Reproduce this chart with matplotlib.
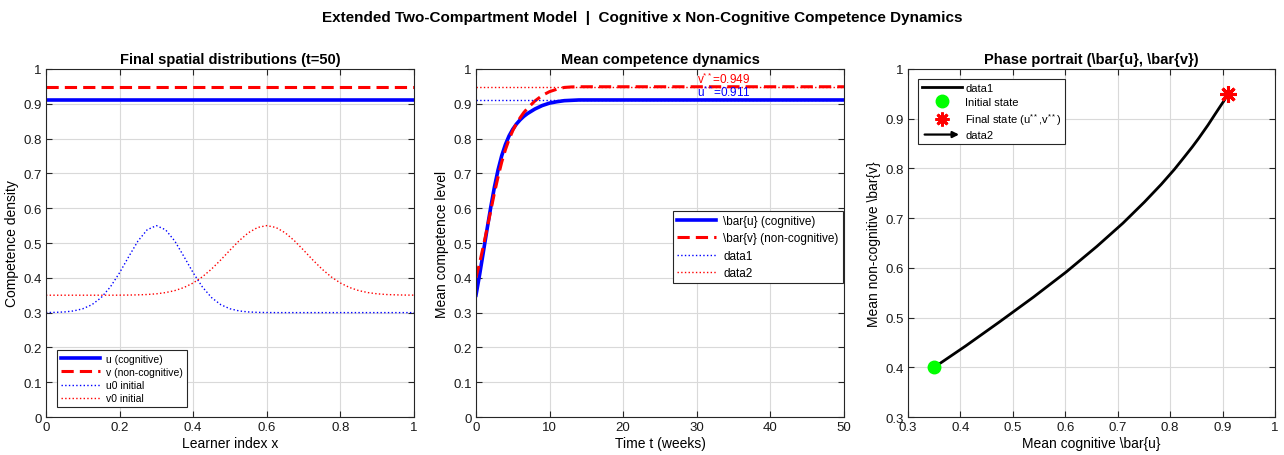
import numpy as np
import matplotlib
matplotlib.use("Agg")
import matplotlib.pyplot as plt
from matplotlib.lines import Line2D
from matplotlib.patches import FancyArrowPatch
from matplotlib.legend_handler import HandlerBase

plt.rcParams['font.family'] = ['Liberation Sans', 'DejaVu Sans']
plt.rcParams['mathtext.fontset'] = 'custom'
plt.rcParams['mathtext.rm'] = 'Liberation Sans'
plt.rcParams['mathtext.it'] = 'Liberation Sans'

# initial profiles on the learner grid (41 samples, 0..1)
x_init = np.linspace(0, 1, 41)
u0 = [0.3002, 0.3007, 0.3019, 0.3048, 0.311, 0.3228, 0.3431, 0.3738, 0.4145,
      0.461, 0.5057, 0.538, 0.55, 0.538, 0.5057, 0.461, 0.4145, 0.3738, 0.3431,
      0.3228, 0.311, 0.3048, 0.3019, 0.3007, 0.3002] + [0.3] * 16
v0 = [0.35] * 8 + [0.3502, 0.3504, 0.351, 0.352, 0.354, 0.3575, 0.3632, 0.3721,
                   0.3851, 0.4028, 0.4252, 0.4514, 0.4795, 0.5066, 0.5294, 0.5446,
                   0.55, 0.5446, 0.5294, 0.5066, 0.4795, 0.4514, 0.4252, 0.4028,
                   0.3851, 0.3721, 0.3632, 0.3575, 0.354, 0.352, 0.351, 0.3504, 0.3502]

# final profiles (flat)
x_final = [0, 1]
u_final = [0.911, 0.911]
v_final = [0.949, 0.949]

# mean competence over time
t = [0, 0.5, 1, 1.5, 2, 2.5, 3, 3.5, 4, 4.5, 5, 5.5, 6, 6.5, 7, 8, 9, 10, 11,
     12, 13, 14, 15, 17, 20, 30, 40, 50]
u_mean = [0.35, 0.41, 0.474, 0.539, 0.602, 0.66, 0.71, 0.751, 0.783, 0.808,
          0.827, 0.842, 0.854, 0.864, 0.872, 0.885, 0.895, 0.902, 0.906, 0.909,
          0.910, 0.911, 0.911, 0.911, 0.911, 0.911, 0.911, 0.911]
v_mean = [0.40, 0.443, 0.491, 0.541, 0.592, 0.643, 0.690, 0.7325, 0.768, 0.798,
          0.823, 0.843, 0.860, 0.875, 0.887, 0.908, 0.924, 0.935, 0.942, 0.947,
          0.9485, 0.949, 0.949, 0.949, 0.949, 0.949, 0.949, 0.949]
u_star = 0.911
v_star = 0.949

BLUE = '#0000ff'
RED = '#ff0000'
GRID = '#d9d9d9'
AX = '#262626'


class ArrowHandler(HandlerBase):
    def create_artists(self, legend, orig_handle, xdescent, ydescent,
                       width, height, fontsize, trans):
        a = FancyArrowPatch((-xdescent, height / 2), (width - xdescent, height / 2),
                            arrowstyle='-|>', mutation_scale=9, color='k', lw=1.6,
                            transform=trans)
        return [a]


def style(ax, xlim, ylim, xticks, yticks):
    ax.set_xlim(xlim)
    ax.set_ylim(ylim)
    ax.set_xticks(xticks)
    ax.set_yticks(yticks)
    ax.set_xticklabels([f'{v:g}' for v in xticks])
    ax.set_yticklabels([f'{v:g}' for v in yticks])
    ax.grid(True, color=GRID, lw=0.8)
    ax.set_axisbelow(True)
    ax.tick_params(direction='in', top=True, right=True, length=4,
                   labelsize=9.5, color=AX, labelcolor='#1a1a1a', pad=3)
    for s in ax.spines.values():
        s.set_color(AX)
        s.set_linewidth(0.8)


def boxed_legend(ax, *args, **kw):
    leg = ax.legend(*args, fancybox=False, edgecolor=AX, framealpha=1,
                    borderpad=0.35, borderaxespad=0, **kw)
    leg.get_frame().set_linewidth(0.8)
    return leg


fig = plt.figure(figsize=(12.84, 4.56), dpi=100)
ax1 = fig.add_axes([0.0358, 0.0833, 0.2866, 0.7632])
ax2 = fig.add_axes([0.3707, 0.0833, 0.2866, 0.7632])
ax3 = fig.add_axes([0.7072, 0.0833, 0.2858, 0.7632])

fig.suptitle('Extended Two-Compartment Model  |  Cognitive x Non-Cognitive Competence Dynamics',
             fontsize=11, fontweight='bold', y=0.975)

# left panel
ax1.plot(x_final, u_final, color=BLUE, lw=2.6, label='u (cognitive)')
ax1.plot(x_final, v_final, color=RED, lw=2.2, dashes=(4, 2), label='v (non-cognitive)')
ax1.plot(x_init, u0, color=BLUE, lw=1.0, ls=':', label='u0 initial')
ax1.plot(x_init, v0, color=RED, lw=1.0, ls=':', label='v0 initial')
style(ax1, (0, 1), (0, 1), [0, 0.2, 0.4, 0.6, 0.8, 1],
      [0, 0.1, 0.2, 0.3, 0.4, 0.5, 0.6, 0.7, 0.8, 0.9, 1])
ax1.set_title('Final spatial distributions (t=50)', fontsize=10.5, fontweight='bold', pad=4)
ax1.set_xlabel('Learner index x', fontsize=10, labelpad=2)
ax1.set_ylabel('Competence density', fontsize=10, labelpad=3)
boxed_legend(ax1, loc='lower left', bbox_to_anchor=(0.03, 0.029), fontsize=7.5,
             handlelength=3.8, labelspacing=0.3, handletextpad=0.6)

# middle panel
ax2.plot(t, u_mean, color=BLUE, lw=2.6, label=r'\bar{u} (cognitive)')
ax2.plot(t, v_mean, color=RED, lw=2.2, dashes=(4, 2), label=r'\bar{v} (non-cognitive)')
ax2.plot([0, 50], [u_star, u_star], color=BLUE, lw=1.0, ls=':', label='data1')
ax2.plot([0, 50], [v_star, v_star], color=RED, lw=1.0, ls=':', label='data2')
ax2.text(30, u_star + 0.002, r'u$^{**}$=0.911', color=BLUE, fontsize=8.5, va='bottom')
ax2.text(30, v_star + 0.002, r'v$^{**}$=0.949', color=RED, fontsize=8.5, va='bottom')
style(ax2, (0, 50), (0, 1), [0, 10, 20, 30, 40, 50],
      [0, 0.1, 0.2, 0.3, 0.4, 0.5, 0.6, 0.7, 0.8, 0.9, 1])
ax2.set_title('Mean competence dynamics', fontsize=10.5, fontweight='bold', pad=4)
ax2.set_xlabel('Time t (weeks)', fontsize=10, labelpad=2)
ax2.set_ylabel('Mean competence level', fontsize=10, labelpad=3)
boxed_legend(ax2, loc='upper right', bbox_to_anchor=(0.997, 0.592), fontsize=8.5,
             handlelength=3.3, labelspacing=0.45, handletextpad=0.6)

# right panel
ax3.plot(u_mean, v_mean, color='k', lw=2.0)
ax3.plot(u_mean[0], v_mean[0], 'o', color='#00ff00', ms=9, zorder=5)
ax3.plot(u_mean[-1], v_mean[-1], marker=(8, 2, 0), color=RED, ms=12, mew=2.2,
         ls='none', zorder=5)
style(ax3, (0.3, 1), (0.3, 1), [0.3, 0.4, 0.5, 0.6, 0.7, 0.8, 0.9, 1],
      [0.3, 0.4, 0.5, 0.6, 0.7, 0.8, 0.9, 1])
ax3.set_title(r'Phase portrait (\bar{u}, \bar{v})', fontsize=10.5, fontweight='bold', pad=4)
ax3.set_xlabel(r'Mean cognitive \bar{u}', fontsize=10, labelpad=2)
ax3.set_ylabel(r'Mean non-cognitive \bar{v}', fontsize=10, labelpad=3)
h_line = Line2D([], [], color='k', lw=2.0)
h_init = Line2D([], [], marker='o', color='#00ff00', ms=9, ls='none')
h_final = Line2D([], [], marker=(8, 2, 0), color=RED, ms=10, mew=2.0, ls='none')
h_arrow = FancyArrowPatch((0, 0), (1, 0))
boxed_legend(ax3, [h_line, h_init, h_final, h_arrow],
             ['data1', 'Initial state', r'Final state (u$^{**}$,v$^{**}$)', 'data2'],
             handler_map={FancyArrowPatch: ArrowHandler()},
             loc='upper left', bbox_to_anchor=(0.027, 0.971), fontsize=8,
             handlelength=3.6, labelspacing=0.35, handletextpad=0.3)

plt.savefig('out.png', dpi=100)
